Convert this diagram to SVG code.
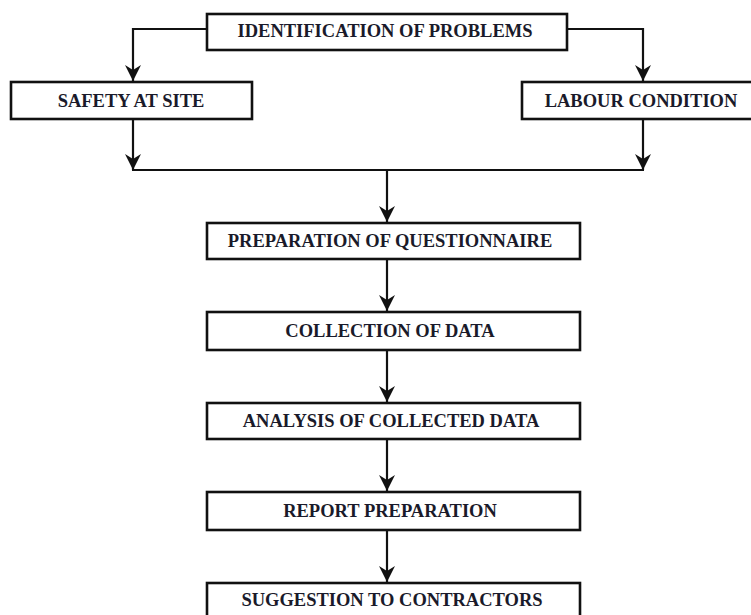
<svg xmlns="http://www.w3.org/2000/svg" width="751" height="615" viewBox="0 0 751 615">
<style>
.box{fill:#fff;stroke:#111;stroke-width:2.6}
.lbl{font-family:"Liberation Serif","Times New Roman",serif;font-weight:bold;font-size:18.5px;fill:#1a1a2a;text-anchor:middle}
.conn{fill:none;stroke:#111;stroke-width:2.2}
</style>
<defs>
<marker id="arr" markerUnits="userSpaceOnUse" markerWidth="20" markerHeight="20" refX="16" refY="8" orient="auto">
<path d="M0,0 L16,8 L0,16 L5,8 z" fill="#111"/>
</marker>
</defs>
<rect width="751" height="615" fill="#fff"/>
<g id="connectors">
<path class="conn" d="M207,29 H133 V81" marker-end="url(#arr)"/>
<path class="conn" d="M567,29 H643 V81" marker-end="url(#arr)"/>
<path class="conn" d="M133,119 V170" marker-end="url(#arr)"/>
<path class="conn" d="M643,119 V170" marker-end="url(#arr)"/>
<path class="conn" d="M132,170 H644"/>
<path class="conn" d="M387,170 V222" marker-end="url(#arr)"/>
<path class="conn" d="M387,259 V311" marker-end="url(#arr)"/>
<path class="conn" d="M387,350 V402" marker-end="url(#arr)"/>
<path class="conn" d="M387,439 V491" marker-end="url(#arr)"/>
<path class="conn" d="M387,530 V582" marker-end="url(#arr)"/>
</g>
<g id="identification">
<rect class="box" x="207" y="14" width="360" height="36"/>
<text class="lbl" x="385" y="37">IDENTIFICATION OF PROBLEMS</text>
</g>
<g id="safety">
<rect class="box" x="11" y="82" width="241" height="37"/>
<text class="lbl" x="131" y="107">SAFETY AT SITE</text>
</g>
<g id="labour">
<rect class="box" x="522" y="82" width="240" height="37"/>
<text class="lbl" x="641" y="107">LABOUR CONDITION</text>
</g>
<g id="questionnaire">
<rect class="box" x="207" y="223" width="373" height="36"/>
<text class="lbl" x="390" y="247">PREPARATION OF QUESTIONNAIRE</text>
</g>
<g id="collection">
<rect class="box" x="207" y="312" width="373" height="38"/>
<text class="lbl" x="390" y="337">COLLECTION OF DATA</text>
</g>
<g id="analysis">
<rect class="box" x="207" y="403" width="373" height="36"/>
<text class="lbl" x="391" y="427">ANALYSIS OF COLLECTED DATA</text>
</g>
<g id="report">
<rect class="box" x="207" y="492" width="373" height="38"/>
<text class="lbl" x="390" y="517">REPORT PREPARATION</text>
</g>
<g id="suggestion">
<rect class="box" x="207" y="583" width="373" height="40"/>
<text class="lbl" x="392" y="606">SUGGESTION TO CONTRACTORS</text>
</g>
</svg>
